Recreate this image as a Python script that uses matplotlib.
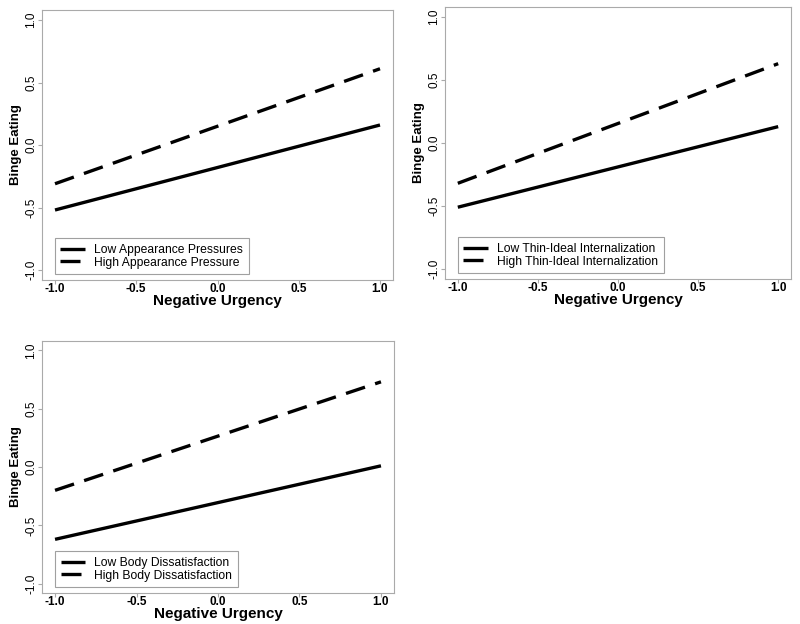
import matplotlib.pyplot as plt

# x endpoints of the simple slopes
x = [-1.0, 1.0]

# panel 1: appearance pressures
p1_low = [-0.52, 0.16]
p1_high = [-0.31, 0.61]
# panel 2: thin-ideal internalization
p2_low = [-0.51, 0.13]
p2_high = [-0.32, 0.63]
# panel 3: body dissatisfaction
p3_low = [-0.62, 0.01]
p3_high = [-0.20, 0.73]

labels = [
    ("Low Appearance Pressures", "High Appearance Pressure"),
    ("Low Thin-Ideal Internalization", "High Thin-Ideal Internalization"),
    ("Low Body Dissatisfaction", "High Body Dissatisfaction"),
]
ticks = [-1.0, -0.5, 0.0, 0.5, 1.0]
ticklabels = ["-1.0", "-0.5", "0.0", "0.5", "1.0"]

plt.rcParams['font.family'] = ['Liberation Sans', 'DejaVu Sans']

fig = plt.figure(figsize=(8, 6.24), dpi=100)
W, H = 800, 624
# axes boxes in pixels: left, top, right, bottom
boxes = [(42, 10, 393, 280), (445, 7, 791, 279), (42, 341, 394, 593)]
series = [(p1_low, p1_high), (p2_low, p2_high), (p3_low, p3_high)]

for (l, t, r, b), (low, high), (lab_low, lab_high) in zip(boxes, series, labels):
    ax = fig.add_axes([l / W, 1 - b / H, (r - l) / W, (b - t) / H])
    ax.plot(x, low, color='black', lw=2.4, solid_capstyle='butt', label=lab_low)
    ax.plot(x, high, color='black', lw=2.4, dashes=(6, 3.2), label=lab_high)
    ax.set_xlim(-1.08, 1.08)
    ax.set_ylim(-1.08, 1.08)
    ax.set_xticks(ticks)
    ax.set_xticklabels(ticklabels, fontsize=8.5, fontweight='bold')
    ax.set_yticks(ticks)
    ax.set_yticklabels(ticklabels, fontsize=8.5, rotation=90, va='center')
    for s in ax.spines.values():
        s.set_color('#aaaaaa')
        s.set_linewidth(0.8)
    ax.tick_params(color='#aaaaaa', length=3, width=0.8)
    ax.tick_params(axis='x', pad=-1)
    ax.tick_params(axis='y', pad=0.5)
    ax.set_xlabel("Negative Urgency", fontsize=11, fontweight='bold', labelpad=-0.5)
    ax.set_ylabel("Binge Eating", fontsize=9.5, fontweight='bold', labelpad=2)
    leg = ax.legend(loc='lower left', fontsize=8.7, frameon=True, fancybox=False,
                    handlelength=2.0, handletextpad=0.8, borderpad=0.45,
                    labelspacing=0.05, bbox_to_anchor=(0.02, 0.0))
    leg.get_frame().set_edgecolor('#888888')
    leg.get_frame().set_linewidth(0.8)

fig.savefig("out.png", dpi=100)
